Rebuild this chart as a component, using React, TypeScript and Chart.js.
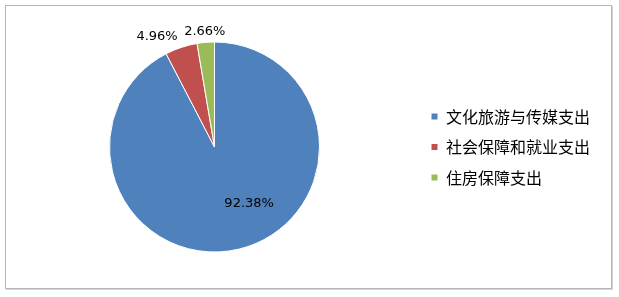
import React, { useEffect, useRef } from "react";
import { Chart, registerables } from "chart.js";

Chart.register(...registerables);

const categories = ["文化旅游与传媒支出", "社会保障和就业支出", "住房保障支出"];
const values = [92.38, 4.96, 2.66];
const valueLabels = ["92.38%", "4.96%", "2.66%"];
const labelInside = [true, false, false];
const colors = ["#4F81BD", "#C0504D", "#9BBB59"];

const W = 619;
const H = 297;
const LEGEND_FONT = '16px "Noto Sans CJK SC"';
const LEGEND_FONT_SIZE = 16;
const LEGEND_PAD = 14.5;
const LEGEND_BOX = 7;
const PIE_CX = 214.5;
const PIE_TOP = 41.5;
const PIE_BOTTOM = 252.5;
const LEGEND_BOX_X = 431;
const LEGEND_LEFT = LEGEND_BOX_X - LEGEND_PAD;

const pctLabelPlugin = {
  id: "pctLabels",
  afterDatasetsDraw(chart: any) {
    const ctx = chart.ctx as CanvasRenderingContext2D;
    const meta = chart.getDatasetMeta(0);
    meta.data.forEach((arc: any, i: number) => {
      const p = arc.getProps(["x", "y", "startAngle", "endAngle", "outerRadius"], true);
      const mid = (p.startAngle + p.endAngle) / 2;
      const cos = Math.cos(mid);
      const sin = Math.sin(mid);
      ctx.save();
      ctx.font = '13px "DejaVu Sans"';
      ctx.fillStyle = "#000";
      ctx.textBaseline = "middle";
      if (labelInside[i]) {
        ctx.textAlign = "center";
        ctx.fillText(valueLabels[i], p.x + p.outerRadius * 0.33, p.y + p.outerRadius * 0.54);
      } else {
        const r = p.outerRadius + 11;
        const ax = p.x + r * cos;
        const ay = p.y + r * sin;
        ctx.textAlign = Math.abs(cos) < 0.2 ? "center" : cos < 0 ? "right" : "left";
        ctx.fillText(valueLabels[i], ax, ay);
      }
      ctx.restore();
    });
  },
};

export default function App() {
  const ref = useRef<HTMLCanvasElement | null>(null);
  useEffect(() => {
    document.body.style.margin = "0";
    const canvas = ref.current!;
    const mctx = canvas.getContext("2d")!;
    mctx.font = LEGEND_FONT;
    const maxText = Math.max(...categories.map((c) => mctx.measureText(c).width));
    const itemWidth = LEGEND_BOX + LEGEND_FONT_SIZE / 2 + maxText;
    const legendWidth = LEGEND_PAD + itemWidth + 10;
    const padRight = W - LEGEND_LEFT - legendWidth;
    const padLeft = 2 * PIE_CX - LEGEND_LEFT;

    const chart = new Chart(canvas, {
      type: "pie",
      data: {
        labels: categories,
        datasets: [
          {
            data: values,
            backgroundColor: colors,
            borderColor: "#ffffff",
            borderWidth: 1,
          },
        ],
      },
      options: {
        responsive: false,
        animation: false,
        devicePixelRatio: 1,
        layout: {
          padding: { top: PIE_TOP, bottom: H - PIE_BOTTOM, left: padLeft, right: padRight },
        },
        plugins: {
          tooltip: { enabled: false },
          legend: {
            position: "right",
            align: "center",
            labels: {
              boxWidth: LEGEND_BOX,
              boxHeight: LEGEND_BOX,
              padding: LEGEND_PAD,
              color: "#000",
              font: { family: '"Noto Sans CJK SC"', size: LEGEND_FONT_SIZE },
            },
          },
        },
      },
      plugins: [pctLabelPlugin],
    });
    return () => chart.destroy();
  }, []);

  return (
    <div style={{ position: "relative", width: W, height: H, background: "#fff" }}>
      <div
        style={{
          position: "absolute",
          left: 5,
          top: 5,
          width: 605,
          height: 282,
          border: "1px solid #b4b4b4",
          boxShadow: "1px 1px 0 #d4d4d4",
        }}
      />
      <canvas ref={ref} width={W} height={H} style={{ position: "absolute", left: 0, top: 0, width: W, height: H }} />
    </div>
  );
}
